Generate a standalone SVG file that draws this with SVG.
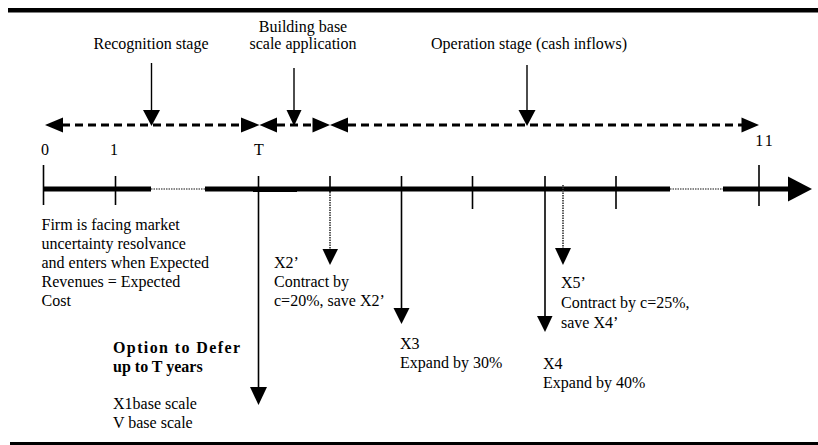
<svg xmlns="http://www.w3.org/2000/svg" width="818" height="445" viewBox="0 0 818 445">
<defs>
<style>
text{font-family:"Liberation Serif","Times New Roman",serif;font-size:16px;fill:#000}
.b{font-weight:bold}
.m{text-anchor:middle}
.dash{stroke:#000;stroke-width:3;stroke-dasharray:8 5;fill:none}
.axis{stroke:#000;stroke-width:5;fill:none}
.dot{stroke:#888;stroke-width:2;stroke-dasharray:1.5 1;fill:none}
.tick{stroke:#000;stroke-width:1.6;fill:none}
.vdot{stroke:#333;stroke-width:1.6;stroke-dasharray:1.5 1;fill:none}
.thin{stroke:#000;stroke-width:1.4;fill:none}
.head{fill:#000}
</style>
</defs>
<rect width="818" height="445" fill="#fff"/>
<!-- frame rules -->
<rect x="8" y="8" width="810" height="4.5" fill="#000"/>
<rect x="10" y="442" width="808" height="3" fill="#000"/>

<g id="stage-labels">
<text class="m" x="151" y="48.5">Recognition stage</text>
<text class="m" x="303" y="31.5">Building base</text>
<text class="m" x="303" y="48.5">scale application</text>
<text class="m" x="529" y="48.5">Operation stage (cash inflows)</text>
</g>

<g id="connectors">
<!-- stage pointer arrows -->
<line class="thin" x1="151.5" y1="63" x2="151.5" y2="111"/>
<polygon class="head" points="143,110 160,110 151.5,126"/>
<line class="thin" x1="294" y1="68" x2="294" y2="111"/>
<polygon class="head" points="286.5,110 301.5,110 294,126"/>
<line class="thin" x1="527" y1="65" x2="527" y2="111"/>
<polygon class="head" points="518.5,110 535.5,110 527,126"/>

<!-- dashed stage spans -->
<line class="dash" x1="62" y1="125" x2="241" y2="125"/>
<polygon class="head" points="45,125 63,117.5 63,132.5"/>
<polygon class="head" points="259.5,125 241,117.5 241,132.5"/>
<line class="dash" x1="277" y1="125" x2="313" y2="125"/>
<polygon class="head" points="259.5,125 277,117.5 277,132.5"/>
<polygon class="head" points="330,125 312.5,117.5 312.5,132.5"/>
<line class="dash" x1="348" y1="125" x2="742" y2="125"/>
<polygon class="head" points="330,125 348,117.5 348,132.5"/>
<polygon class="head" points="759,125 741.5,117.5 741.5,132.5"/>

<!-- time axis -->
<line class="axis" x1="43" y1="189" x2="151" y2="189"/>
<line class="dot" x1="151" y1="189" x2="205" y2="189"/>
<line class="axis" x1="205" y1="189" x2="670" y2="189"/>
<rect x="253" y="187" width="44" height="5" fill="#000"/>
<line class="dot" x1="670" y1="189" x2="723" y2="189"/>
<line class="axis" x1="723" y1="189" x2="790" y2="189"/>
<polygon class="head" points="788,176.5 812,189 788,201.5"/>

<!-- ticks -->
<line class="tick" x1="43.5" y1="165" x2="43.5" y2="205"/>
<line class="tick" x1="115.5" y1="176" x2="115.5" y2="205"/>
<line class="tick" x1="472.5" y1="176" x2="472.5" y2="209"/>
<line class="tick" x1="616" y1="176" x2="616" y2="209"/>
<line class="tick" x1="759" y1="165" x2="759" y2="206"/>

<!-- T: defer option arrow -->
<line class="tick" x1="258.5" y1="176" x2="258.5" y2="388"/>
<polygon class="head" points="250,387 267,387 258.5,405"/>
<!-- X2' contract arrow -->
<line class="tick" x1="330" y1="176" x2="330" y2="192"/>
<line class="vdot" x1="330" y1="192" x2="330" y2="250"/>
<polygon class="head" points="322.5,249 338,249 330,265"/>
<!-- X3 expand arrow -->
<line class="tick" x1="401.5" y1="176" x2="401.5" y2="309"/>
<polygon class="head" points="393.5,308 409.5,308 401.5,324"/>
<!-- X4 expand arrow -->
<line class="tick" x1="545" y1="176" x2="545" y2="317"/>
<polygon class="head" points="537,316 552.5,316 545,332"/>
<!-- X5' contract arrow -->
<line class="vdot" x1="563" y1="185" x2="563" y2="249"/>
<polygon class="head" points="555,248 571,248 563,265"/>
</g>

<g id="axis-labels">
<text class="m" x="45" y="155">0</text>
<text class="m" x="114" y="155">1</text>
<text class="m" x="259" y="155">T</text>
<text class="m" x="765" y="145.5" letter-spacing="2">11</text>
</g>

<g id="firm-note">
<text x="41.5" y="229.5">Firm is facing market</text>
<text x="41.5" y="248.5">uncertainty resolvance</text>
<text x="41.5" y="267.5">and enters when Expected</text>
<text x="41.5" y="286.5">Revenues = Expected</text>
<text x="41.5" y="306">Cost</text>
</g>

<g id="defer-option">
<text class="b" x="113" y="353" textLength="127" lengthAdjust="spacing">Option to Defer</text>
<text class="b" x="113" y="372">up to T years</text>
<text x="113" y="408.5">X1base scale</text>
<text x="113" y="427.5">V base scale</text>
</g>

<g id="x2-contract">
<text x="274" y="267.5">X2’</text>
<text x="274" y="286.5">Contract by</text>
<text x="274" y="306">c=20%, save X2’</text>
</g>

<g id="x3-expand">
<text x="400" y="348.5">X3</text>
<text x="400" y="367.5">Expand by 30%</text>
</g>

<g id="x4-expand">
<text x="543" y="368.5">X4</text>
<text x="543" y="387.5">Expand by 40%</text>
</g>

<g id="x5-contract">
<text x="561" y="287.5">X5’</text>
<text x="561" y="308">Contract by c=25%,</text>
<text x="561" y="328">save X4’</text>
</g>
</svg>
